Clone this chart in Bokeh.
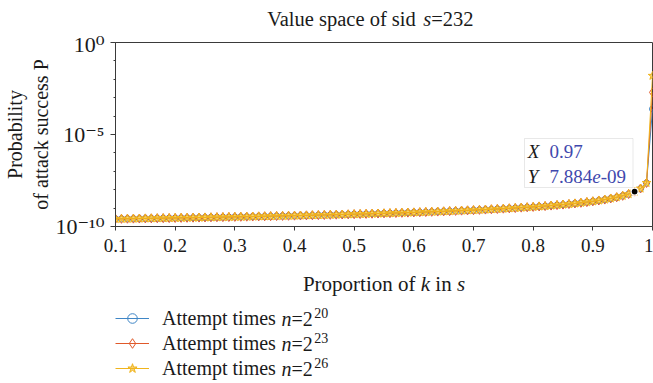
from bokeh.plotting import figure
from bokeh.layouts import column
from bokeh.models import (FixedTicker, CustomJSTickFormatter, Label, Legend, LegendItem,
                          BoxAnnotation, Range1d)
from bokeh.embed import file_html
from bokeh.resources import INLINE

# ---------------- data ----------------
proportion = [round(k / 100, 2) for k in range(10, 101)]          # 0.10 ... 1.00

# common part of the three curves for k/s = 0.10 ... 0.99 (they overlap)
p_common = [
    2.59e-10, 2.62e-10, 2.65e-10, 2.68e-10, 2.71e-10, 2.74e-10, 2.77e-10, 2.81e-10, 2.84e-10, 2.87e-10,
    2.91e-10, 2.95e-10, 2.98e-10, 3.02e-10, 3.06e-10, 3.10e-10, 3.15e-10, 3.19e-10, 3.23e-10, 3.28e-10,
    3.33e-10, 3.37e-10, 3.42e-10, 3.48e-10, 3.53e-10, 3.58e-10, 3.64e-10, 3.70e-10, 3.76e-10, 3.82e-10,
    3.88e-10, 3.95e-10, 4.01e-10, 4.08e-10, 4.16e-10, 4.23e-10, 4.31e-10, 4.39e-10, 4.48e-10, 4.57e-10,
    4.66e-10, 4.75e-10, 4.85e-10, 4.95e-10, 5.06e-10, 5.17e-10, 5.29e-10, 5.41e-10, 5.54e-10, 5.68e-10,
    5.82e-10, 5.97e-10, 6.13e-10, 6.29e-10, 6.47e-10, 6.65e-10, 6.85e-10, 7.06e-10, 7.28e-10, 7.51e-10,
    7.76e-10, 8.03e-10, 8.31e-10, 8.62e-10, 8.95e-10, 9.31e-10, 9.70e-10, 1.01e-09, 1.06e-09, 1.11e-09,
    1.16e-09, 1.23e-09, 1.29e-09, 1.37e-09, 1.46e-09, 1.55e-09, 1.66e-09, 1.79e-09, 1.94e-09, 2.12e-09,
    2.33e-09, 2.59e-09, 2.91e-09, 3.33e-09, 3.88e-09, 4.66e-09, 5.82e-09, 7.884e-09, 1.16e-08, 2.33e-08,
]
p_end_n20 = 2.44e-4
p_end_n23 = 1.95e-3
p_end_n26 = 1.56e-2

p_n20 = p_common + [p_end_n20]
p_n23 = p_common + [p_end_n23]
p_n26 = p_common + [p_end_n26]

attempt_exponents = ["20", "23", "26"]

x_ticks = [0.1, 0.2, 0.3, 0.4, 0.5, 0.6, 0.7, 0.8, 0.9, 1.0]
y_major = [1e-10, 1e-5, 1.0]
y_minor = [1e-9, 1e-8, 1e-7, 1e-6, 1e-4, 1e-3, 1e-2, 1e-1]

tip_x = 0.97
tip_y = 7.884e-09

title_parts = [("Value space of sid ", False), ("s", True), ("=232", False)]
xlabel_parts = [("Proportion of ", False), ("k", True), (" in ", False), ("s", True)]
legend_head = "Attempt times"
legend_tail = [("n", True), ("=2", False)]
y_label = "Probability\nof attack success P"

# ---------------- styling ----------------
FONT = "'Liberation Serif', 'DejaVu Serif', serif"
BLUE, ORANGE, YELLOW = "#3F86C6", "#E0592A", "#F0B41C"
TIPBLUE = "#3F48AD"
AXIS = "#3a3a3a"
TXT = "#1a1a1a"
STYLES = [(BLUE, "circle", 6, None), (ORANGE, "diamond", 9, None), (YELLOW, "star", 9, YELLOW)]

# Times / Liberation Serif advance widths (per 1000 em) for placing mixed-style text
REG = {" ": 250, "=": 564, ".": 250, "-": 333, "A": 722, "P": 556, "V": 722, "a": 444,
       "c": 444, "d": 500, "e": 444, "f": 333, "i": 278, "k": 500, "l": 278, "m": 778,
       "n": 500, "o": 500, "p": 500, "r": 333, "s": 389, "t": 278, "u": 500, "y": 500}
ITA = {"X": 611, "Y": 556, "e": 444, "n": 500, "s": 389, "k": 444}


def tw(text, size, italic=False):
    tab = ITA if italic else REG
    return sum(tab.get(c, 500) for c in text) * size / 1000.0


def add_parts(fig, parts, x0, y0, size, color=TXT):
    """Place mixed upright/italic pieces left to right; y0 is the vertical middle of the line."""
    pos = x0
    for text, italic in parts:
        stripped = text.lstrip(" ")
        lead = tw(text[:len(text) - len(stripped)], size)
        fig.add_layout(Label(x=pos + lead, y=y0, x_units="screen", y_units="screen",
                             text=stripped.rstrip(" "), text_font=FONT, text_font_size=f"{size}px",
                             text_font_style="italic" if italic else "normal",
                             text_color=color, text_align="left", text_baseline="middle"))
        pos += tw(text, size, italic)
    return pos


def add_series(fig, visible=True):
    out = []
    for ys, (col, mk, sz, fill) in zip([p_n20, p_n23, p_n26], STYLES):
        ln = fig.line(proportion, ys, line_color=col, line_width=1, visible=visible)
        sc = fig.scatter(proportion, ys, marker=mk, size=sz, line_color=col, line_width=1,
                         fill_color=fill if fill else "white", fill_alpha=0.6 if fill else 0.0,
                         visible=visible)
        out.append([ln, sc])
    return out


W = 653
LEFT, RIGHT = 115, 1
TOP_H = 31
MAIN_TOP, FRAME_H, MAIN_BOTTOM = 11, 184, 36
MAIN_H = MAIN_TOP + FRAME_H + MAIN_BOTTOM
BOT_H = 383 - TOP_H - MAIN_H
FRAME_W = W - LEFT - RIGHT


def strip_fig(height):
    f = figure(width=W, height=height, x_range=Range1d(0.1, 1.0), y_range=Range1d(1e-10, 1.0),
               y_axis_type="log", output_backend="svg", toolbar_location=None,
               x_axis_location=None, y_axis_location=None,
               min_border_left=LEFT, min_border_right=RIGHT, min_border_top=0, min_border_bottom=0)
    f.title.visible = False
    f.outline_line_color = None
    f.grid.visible = False
    f.background_fill_color = "white"
    f.border_fill_color = "white"
    return f


# ---------------- title strip ----------------
t = strip_fig(TOP_H)
TS = 20.5
add_parts(t, title_parts, 151.7, TOP_H - 18.3, TS)

# ---------------- main plot ----------------
p = figure(width=W, height=MAIN_H,
           x_range=Range1d(0.1, 1.0), y_range=Range1d(1e-10, 1.0),
           y_axis_type="log", output_backend="svg", toolbar_location=None,
           min_border_left=LEFT, min_border_right=RIGHT, min_border_top=MAIN_TOP,
           min_border_bottom=MAIN_BOTTOM)
p.title.visible = False
p.background_fill_color = "white"
p.border_fill_color = "white"
p.outline_line_color = AXIS
p.outline_line_width = 1
p.xgrid.visible = False
p.ygrid.visible = False

p.xaxis.ticker = FixedTicker(ticks=x_ticks)
p.xaxis.formatter = CustomJSTickFormatter(code="return String(Math.round(tick*10)/10);")
p.yaxis.ticker = FixedTicker(ticks=y_major, minor_ticks=y_minor)
p.yaxis.formatter = CustomJSTickFormatter(code=r"""
const sup = {"-": "\u207b", "0": "\u2070", "1": "\u00b9", "2": "\u00b2", "3": "\u00b3",
             "4": "\u2074", "5": "\u2075", "6": "\u2076", "7": "\u2077", "8": "\u2078", "9": "\u2079"};
const e = Math.round(Math.log10(tick));
return "10" + String(e).split("").map(c => sup[c]).join("");
""")
for ax in (p.xaxis[0], p.yaxis[0]):
    ax.axis_line_color = AXIS
    ax.major_tick_line_color = AXIS
    ax.minor_tick_line_color = AXIS
    ax.major_tick_in = 0
    ax.minor_tick_in = 0
    ax.major_label_text_font = FONT
    ax.major_label_text_color = TXT
    ax.axis_label_text_font = FONT
    ax.axis_label_text_font_style = "normal"
    ax.axis_label_text_color = TXT
p.xaxis.major_label_text_font_size = "19px"
p.xaxis.major_tick_out = 4
p.xaxis.minor_tick_out = 0
p.xaxis.major_label_standoff = 8
p.yaxis.major_label_text_font_size = "22px"
p.yaxis.axis_label_text_font_size = "20px"
p.yaxis.major_tick_out = 5
p.yaxis.minor_tick_out = 2
p.yaxis.major_label_standoff = 6
p.yaxis.axis_label = y_label
p.yaxis.axis_label_standoff = 0
p.yaxis.axis_label_text_line_height = 1.2

add_series(p)

# data tip dot
p.scatter([tip_x], [tip_y], marker="circle", size=7, fill_color="black",
          line_color="white", line_width=1.2)

# data tip box and texts
p.add_layout(BoxAnnotation(left=409, right=517.5, top=88, bottom=39,
                           left_units="screen", right_units="screen",
                           top_units="screen", bottom_units="screen",
                           fill_color="white", fill_alpha=1.0,
                           line_color="#b4b4b4", line_width=1))
DS = 19
mant, expo = f"{tip_y:.3e}".split("e")
expo_txt = ("-" if expo.startswith("-") else "") + expo.lstrip("+-").zfill(2)
tip_lines = [
    ([("X", True, TXT)], [(f"{tip_x:.2f}", False, TIPBLUE)], 40.4),
    ([("Y", True, TXT)], [(mant, False, TIPBLUE), ("e", True, TIPBLUE), (expo_txt, False, TIPBLUE)], 15.4),
]
for key, vals, yoff in tip_lines:
    for text, it, col in key:
        p.add_layout(Label(x=tip_x, y=tip_y, x_offset=-106.8, y_offset=yoff, text=text,
                           text_font=FONT, text_font_size=f"{DS}px",
                           text_font_style="italic" if it else "normal", text_color=col,
                           text_baseline="middle"))
    off = -85.1
    for text, it, col in vals:
        p.add_layout(Label(x=tip_x, y=tip_y, x_offset=off, y_offset=yoff, text=text,
                           text_font=FONT, text_font_size=f"{DS}px",
                           text_font_style="italic" if it else "normal", text_color=col,
                           text_baseline="middle"))
        off += tw(text, DS, it)

# ---------------- x label + legend strip ----------------
b = strip_fig(BOT_H)
XS = 21
add_parts(b, xlabel_parts, FRAME_W / 2 - sum(tw(s, XS, i) for s, i in xlabel_parts) / 2, 383 - 283, XS)

leg_renderers = add_series(b, visible=False)
LS, ROW_H, ROW_GAP, GLYPH_W, STANDOFF, LEG_BOTTOM = 20, 24, 1, 34, 13, 3
legend = Legend(items=[LegendItem(label=legend_head, renderers=r) for r in leg_renderers],
                location=(0, LEG_BOTTOM), orientation="vertical", padding=0, margin=0, spacing=ROW_GAP,
                glyph_width=GLYPH_W, glyph_height=ROW_H, label_height=ROW_H, label_standoff=STANDOFF,
                label_text_font=FONT, label_text_font_size=f"{LS}px", label_text_color=TXT,
                border_line_color=None, background_fill_alpha=0.0, click_policy="none")
b.add_layout(legend)
n_rows = len(attempt_exponents)
for i, ex in enumerate(attempt_exponents):
    row_center = LEG_BOTTOM + (n_rows - 1 - i) * (ROW_H + ROW_GAP) + ROW_H / 2
    x_after = add_parts(b, legend_tail, GLYPH_W + STANDOFF + tw(legend_head + " ", LS),
                        row_center, LS)
    b.add_layout(Label(x=x_after + 1.5, y=row_center + 6, x_units="screen", y_units="screen",
                       text=ex, text_font=FONT, text_font_size="14px", text_color=TXT,
                       text_align="left", text_baseline="middle"))

layout = column(t, p, b, spacing=0)
open("out.html", "w").write(file_html(layout, INLINE))
